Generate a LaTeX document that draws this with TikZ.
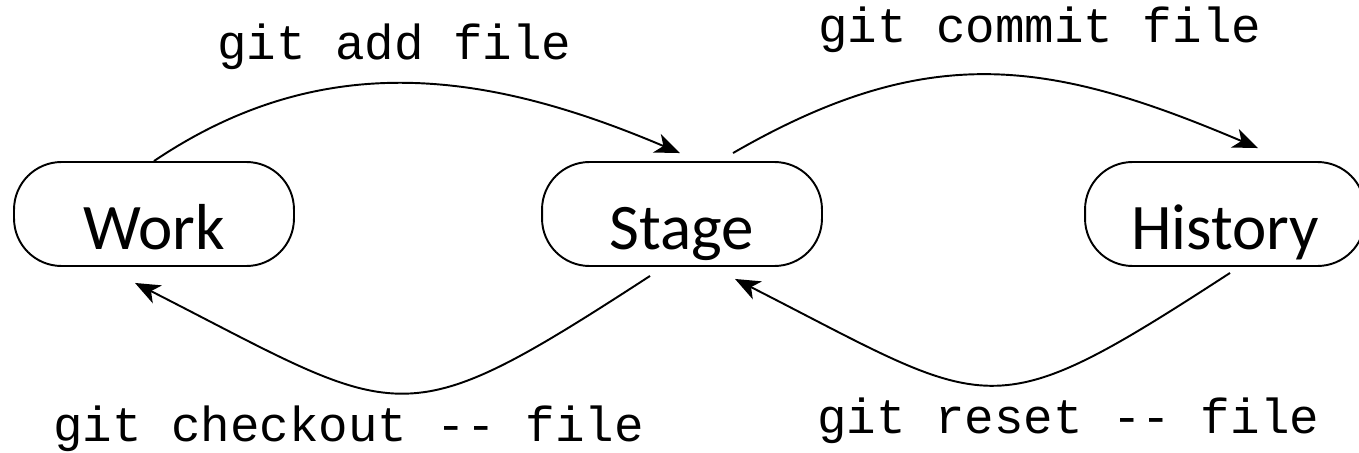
\documentclass[tikz,border=0pt]{standalone}
\usepackage{fontspec}
\setmainfont{Carlito}
\newfontfamily\gitfont{Liberation Mono}
\usetikzlibrary{arrows.meta,positioning}

\tikzset{
	area/.style={draw, line width=1.1pt, rounded corners=0.95cm,
		minimum width=5.6cm, minimum height=2.08cm,
		text height=1.44cm, text depth=0pt,
		font=\fontsize{37}{44}\selectfont},
	gitcmd/.style={font=\gitfont\fontsize{28}{32}\selectfont},
	flow/.style={line width=1.1pt, -{Stealth[length=0.5cm, width=0.4cm, inset=0.14cm]}}
}

\begin{document}
\begin{tikzpicture}[x=0.02cm, y=-0.02cm]
	\useasboundingbox (0,0) rectangle (1359,453);

	\node[area] (work) at (154,214) {Work};
	\node[area] (stage) at (682,214) {Stage};
	\node[area] (hist) at (1225,214) {History};

	% forward: work -> stage -> history
	\draw[flow] (work.north) to[out=34, in=157]
		node[gitcmd, pos=0.47, above=0.15cm] (add) {git add file} ([shift={(-2,-8)}]stage.north);
	\draw[flow] ([shift={(51,-8)}]stage.north) to[out=30, in=157, looseness=1.1]
		node[gitcmd, pos=0.6, above=0.4cm] (commit) {git commit file} ([shift={(33,-13)}]hist.north);

	% backward: history -> stage -> work
	\draw[flow] ([shift={(-32,9)}]stage.south) to[out=213, in=-27, looseness=1.5]
		node[gitcmd, pos=0.5, below=0.12cm, xshift=-1cm] (checkout) {git checkout -{}- file} ([shift={(-19,16)}]work.south);
	\draw[flow] ([shift={(5,6)}]hist.south) to[out=213, in=-27, looseness=1.5]
		node[gitcmd, pos=0.5, below=0.12cm, xshift=1.6cm] (reset) {git reset -{}- file} ([shift={(53,12)}]stage.south);
\end{tikzpicture}
\end{document}
